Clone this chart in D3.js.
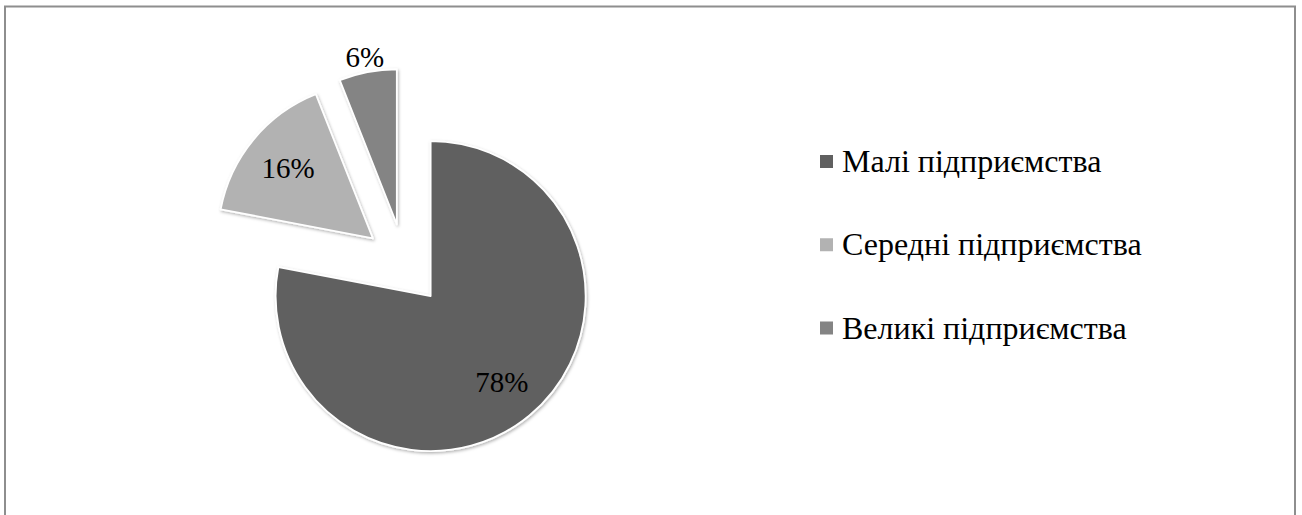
<!DOCTYPE html>
<html>
<head>
<meta charset="utf-8">
<script src="https://cdn.jsdelivr.net/npm/d3@7"></script>
<style>
  html, body { margin: 0; padding: 0; background: #fff; }
  svg { display: block; }
</style>
</head>
<body>
<svg id="chart" width="1302" height="515"></svg>
<script>
// ---- data ----
const categories = ["Малі підприємства", "Середні підприємства", "Великі підприємства"];
const values = [78, 16, 6];
const labels = ["78%", "16%", "6%"];
const colors = ["#606060", "#b2b2b2", "#848484"];

// ---- layout ----
const W = 1302, H = 515;
const cx = 404.5, cy = 264.5, R = 155, explode = 41;
const labelRadius = [0.72, 0.71, 1.10];
const FONT = "Liberation Serif";

const svg = d3.select("#chart");

const defs = svg.append("defs");
const f = defs.append("filter").attr("id", "shadow").attr("x", "-20%").attr("y", "-20%").attr("width", "140%").attr("height", "140%");
f.append("feDropShadow").attr("dx", 1).attr("dy", 1.5).attr("stdDeviation", 1.5).attr("flood-color", "#000").attr("flood-opacity", 0.3);

// chart border
svg.append("rect")
  .attr("x", 5).attr("y", 6.5).attr("width", 1290).attr("height", 520)
  .attr("fill", "none").attr("stroke", "#8e8e8e").attr("stroke-width", 2);

const pie = d3.pie().sort(null).value(d => d)(values);
const arc = d3.arc().innerRadius(0).outerRadius(R);

const g = svg.append("g").attr("transform", `translate(${cx},${cy})`);

pie.forEach((d, i) => {
  const mid = (d.startAngle + d.endAngle) / 2;
  const ox = explode * Math.sin(mid), oy = -explode * Math.cos(mid);
  const sg = g.append("g").attr("transform", `translate(${ox},${oy})`);
  sg.append("path")
    .attr("d", arc(d))
    .attr("fill", colors[i])
    .attr("stroke", "#ffffff")
    .attr("stroke-width", 1.8)
    .attr("stroke-linejoin", "round")
    .attr("filter", "url(#shadow)");
  const lr = R * labelRadius[i];
  sg.append("text")
    .attr("x", lr * Math.sin(mid))
    .attr("y", -lr * Math.cos(mid))
    .attr("text-anchor", "middle")
    .attr("dominant-baseline", "central")
    .style("font-family", FONT)
    .style("font-size", "29px")
    .attr("fill", "#000")
    .text(labels[i]);
});

// legend
const lg = svg.append("g");
const yScale = d3.scalePoint().domain(categories).range([161.5, 328]);
categories.forEach((c, i) => {
  const y = yScale(c);
  lg.append("rect")
    .attr("x", 820).attr("y", y - 6.5).attr("width", 13).attr("height", 13)
    .attr("fill", colors[i]);
  lg.append("text")
    .attr("x", 842).attr("y", y + 10.5)
    .style("font-family", FONT)
    .style("font-size", "32px")
    .attr("fill", "#000")
    .text(c);
});
</script>
</body>
</html>
